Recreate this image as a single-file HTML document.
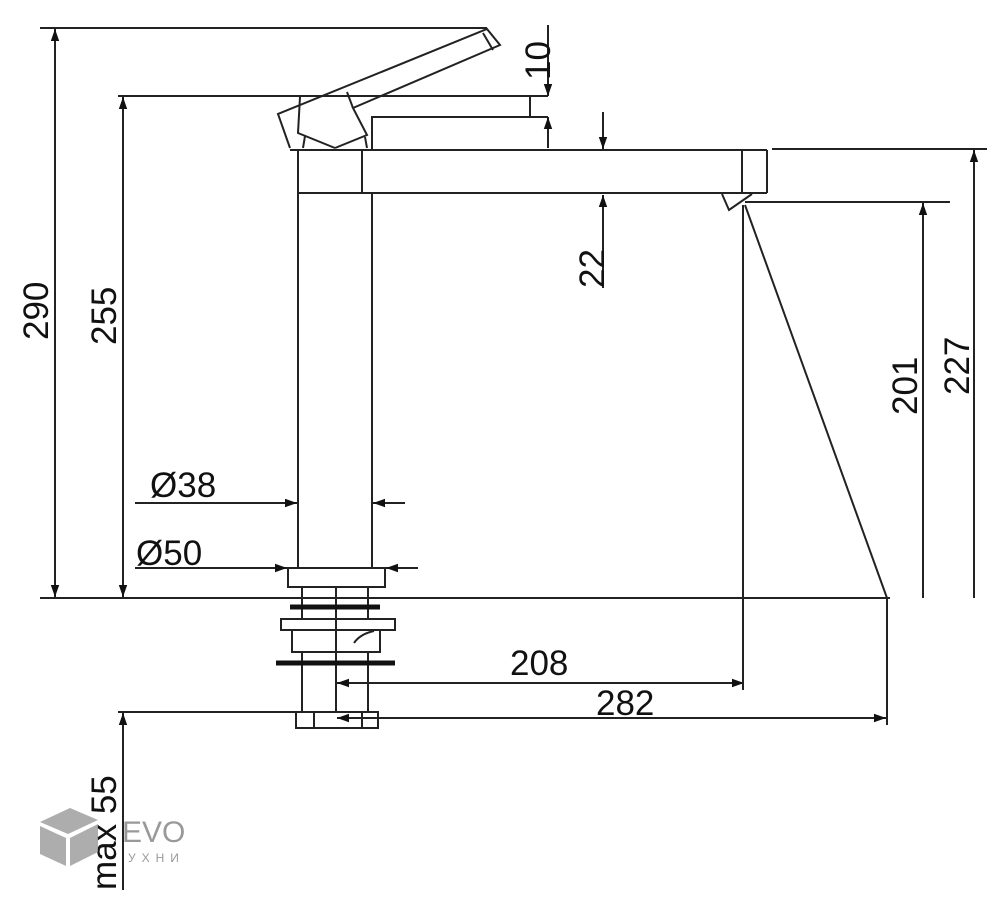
<!DOCTYPE html>
<html><head><meta charset="utf-8"><style>
html,body{margin:0;padding:0;background:#fff;}
svg{display:block;}
text{font-family:"Liberation Sans",sans-serif;font-size:35px;fill:#111;}
</style></head><body>
<svg width="1006" height="900" viewBox="0 0 1006 900" xmlns="http://www.w3.org/2000/svg">
<defs>
<marker id="a" viewBox="0 0 10 10" refX="10" refY="5" markerWidth="12" markerHeight="12" markerUnits="userSpaceOnUse" orient="auto"><path d="M0,1.5 L10,5 L0,8.5z" fill="#111"/></marker>
</defs>
<g stroke="#222" stroke-width="2" fill="none">
<line x1="40" y1="28" x2="487" y2="28"/>
<line x1="118" y1="96" x2="530" y2="96"/>
<line x1="40" y1="598" x2="890" y2="598"/>
<line x1="772" y1="149" x2="987" y2="149"/>
<line x1="745" y1="202" x2="950" y2="202"/>
<line x1="118" y1="712" x2="296" y2="712"/>
<line x1="55" y1="310" x2="55" y2="29" marker-end="url(#a)"/>
<line x1="55" y1="310" x2="55" y2="597" marker-end="url(#a)"/>
<line x1="123" y1="340" x2="123" y2="97" marker-end="url(#a)"/>
<line x1="123" y1="340" x2="123" y2="597" marker-end="url(#a)"/>
<line x1="123" y1="890" x2="123" y2="713" marker-end="url(#a)"/>
<line x1="548" y1="25" x2="548" y2="96" marker-end="url(#a)"/>
<line x1="548" y1="148" x2="548" y2="117" marker-end="url(#a)"/>
<line x1="603" y1="112" x2="603" y2="149" marker-end="url(#a)"/>
<line x1="603" y1="288" x2="603" y2="195" marker-end="url(#a)"/>
<line x1="923" y1="598" x2="923" y2="203" marker-end="url(#a)"/>
<line x1="974" y1="598" x2="974" y2="150" marker-end="url(#a)"/>
<line x1="135" y1="503" x2="297" y2="503" marker-end="url(#a)"/>
<line x1="405" y1="503" x2="373" y2="503" marker-end="url(#a)"/>
<line x1="135" y1="568" x2="287" y2="568" marker-end="url(#a)"/>
<line x1="418" y1="568" x2="386" y2="568" marker-end="url(#a)"/>
<line x1="540" y1="683" x2="337" y2="683" marker-end="url(#a)"/>
<line x1="540" y1="683" x2="744" y2="683" marker-end="url(#a)"/>
<line x1="600" y1="718" x2="337" y2="718" marker-end="url(#a)"/>
<line x1="600" y1="718" x2="886" y2="718" marker-end="url(#a)"/>
<line x1="743" y1="205" x2="743" y2="690"/>
<line x1="745" y1="205" x2="887" y2="598"/>
<line x1="887" y1="598" x2="887" y2="725"/>
<line x1="290" y1="150" x2="767" y2="150"/>
<line x1="298" y1="193" x2="767" y2="193"/>
<line x1="767" y1="150" x2="767" y2="193"/>
<line x1="742" y1="150" x2="742" y2="193"/>
<polyline points="722,194 729,210 752,194"/>
<line x1="298" y1="150" x2="298" y2="568"/>
<line x1="372" y1="193" x2="372" y2="568"/>
<line x1="362" y1="150" x2="362" y2="193"/>
<line x1="298" y1="96" x2="548" y2="96"/>
<polyline points="530,96 530,117 548,117"/>
<polyline points="372,150 372,117 548,117"/>
<!-- handle -->
<polyline points="290,148 278,114 487,29 500,45 353,108 367,135 335,148"/>
<line x1="483" y1="33" x2="493" y2="50"/>
<polyline points="300,97 298,133 335,148"/>
<polyline points="347,92 353,108"/>
<line x1="305" y1="136" x2="303" y2="148"/>
<line x1="365" y1="137" x2="367" y2="148"/>
<!-- base -->
<rect x="288" y="568" width="97" height="19"/>
<rect x="281" y="619" width="114" height="11"/>
<polyline points="292,630 292,652 380,652 380,630"/>
<path d="M354,643 q6,-9 20,-12"/>
<line x1="302" y1="587" x2="302" y2="619"/>
<line x1="336" y1="587" x2="336" y2="712"/>
<line x1="368" y1="587" x2="368" y2="619"/>
<line x1="302" y1="652" x2="302" y2="712"/>
<line x1="368" y1="652" x2="368" y2="712"/>
<rect x="296" y="712" width="82" height="16"/>
<line x1="314" y1="712" x2="314" y2="728"/>
<line x1="362" y1="712" x2="362" y2="728"/>
</g>
<g stroke="#111" stroke-width="5">
<line x1="290" y1="607" x2="380" y2="607"/>
<line x1="276" y1="663" x2="395" y2="663"/>
</g>
<text transform="translate(48,340) rotate(-90)">290</text>
<text transform="translate(116,345) rotate(-90)">255</text>
<text transform="translate(550,80) rotate(-90)">10</text>
<text transform="translate(604,288) rotate(-90)">22</text>
<text transform="translate(917,415) rotate(-90)">201</text>
<text transform="translate(969,395) rotate(-90)">227</text>
<text transform="translate(116,890) rotate(-90)">max 55</text>
<text x="150" y="497">Ø38</text>
<text x="136" y="565">Ø50</text>
<text x="510" y="675">208</text>
<text x="596" y="715">282</text>
<g fill="#999" opacity="0.8">
<polygon points="40,822 70,808 98,820 68,834"/>
<polygon points="40,826 66,838 66,866 40,854"/>
<polygon points="70,838 98,824 98,852 70,866"/>
</g>
<text x="122" y="842" style="font-size:30px;fill:#999;">EVO</text>
<text x="128" y="862" style="font-size:12px;fill:#999;letter-spacing:6px;">УХНИ</text>
</svg>
</body></html>
